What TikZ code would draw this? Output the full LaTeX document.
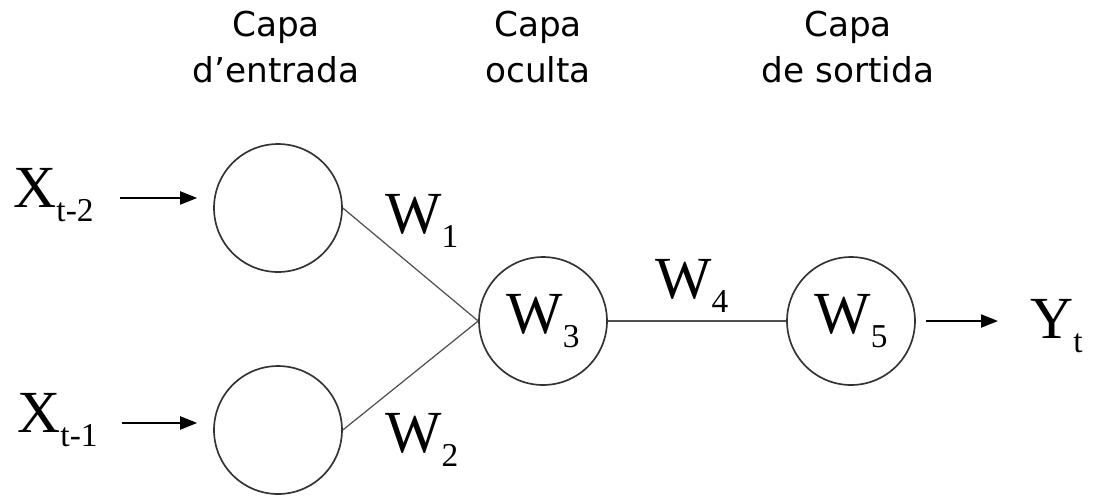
\documentclass[tikz,border=0pt]{standalone}
\usepackage{fontspec}
\setmainfont{Liberation Serif}
\newfontfamily\headfont{DejaVu Sans}
\usepackage{tikz}
\usetikzlibrary{positioning,arrows.meta}
\definecolor{rim}{HTML}{333333}
\definecolor{wirec}{HTML}{505050}
\newcommand{\wl}[2]{{\fontsize{34}{40}\selectfont #1}\raisebox{-8pt}{\fontsize{19}{22}\selectfont #2}}
\tikzset{
  neuron/.style={circle, draw=rim, line width=0.95pt, minimum size=2.56cm, inner sep=0pt},
  lbl/.style   ={inner sep=0pt, anchor=base west},
  head/.style  ={inner sep=0pt, anchor=north, align=center, font=\headfont\fontsize{19.5}{26.2}\selectfont},
  link/.style  ={draw=wirec, line width=0.7pt},
  feed/.style  ={-{Triangle[length=3.4mm, width=2.6mm]}, line width=1.2pt},
}
\begin{document}
\begin{tikzpicture}[x=0.02cm, y=-0.02cm]
        \useasboundingbox (0,0) rectangle (1093,495);
        % layer titles
        \node[head] (hin)  at (276,11) {Capa\\d’entrada};
        \node[head] (hhid) at (538,11) {Capa\\oculta};
        \node[head] (hout) at (848,11) {Capa\\de sortida};
        % neurons
        \node[neuron] (in1) at (278,208) {};
        \node[neuron] (in2) at (278,430) {};
        \node[neuron] (hid) at (543,321) {\wl{W}{3}};
        \node[neuron] (out) at (851,321) {\wl{W}{5}};
        % inputs, output and weights
        \node[lbl] (xa) at (13,207)   {\wl{X}{t-2}};
        \node[lbl] (xb) at (17,432)   {\wl{X}{t-1}};
        \node[lbl] (yt) at (1030,338) {\wl{Y}{t}};
        \node[lbl] (w1) at (385,233)  {\wl{W}{1}};
        \node[lbl] (w2) at (385,452)  {\wl{W}{2}};
        \node[lbl] (w4) at (655,298)  {\wl{W}{4}};
        \draw[feed] ([shift={(0.52cm,0.1cm)}]xa.mid east) -- ([shift={(-0.32cm,0.1cm)}]in1.west |- xa.mid east);
        \draw[feed] ([shift={(0.48cm,0.1cm)}]xb.mid east) -- ([shift={(-0.32cm,0.1cm)}]in2.west |- xb.mid east);
        \draw[link] (in1.east) -- (hid.west);
        \draw[link] (in2.east) -- (hid.west);
        \draw[link] (hid) -- (out);
        \draw[feed] ([xshift=0.2cm]out.east) -- ([xshift=-0.64cm]yt.west |- out.east);
      \end{tikzpicture}
\end{document}
